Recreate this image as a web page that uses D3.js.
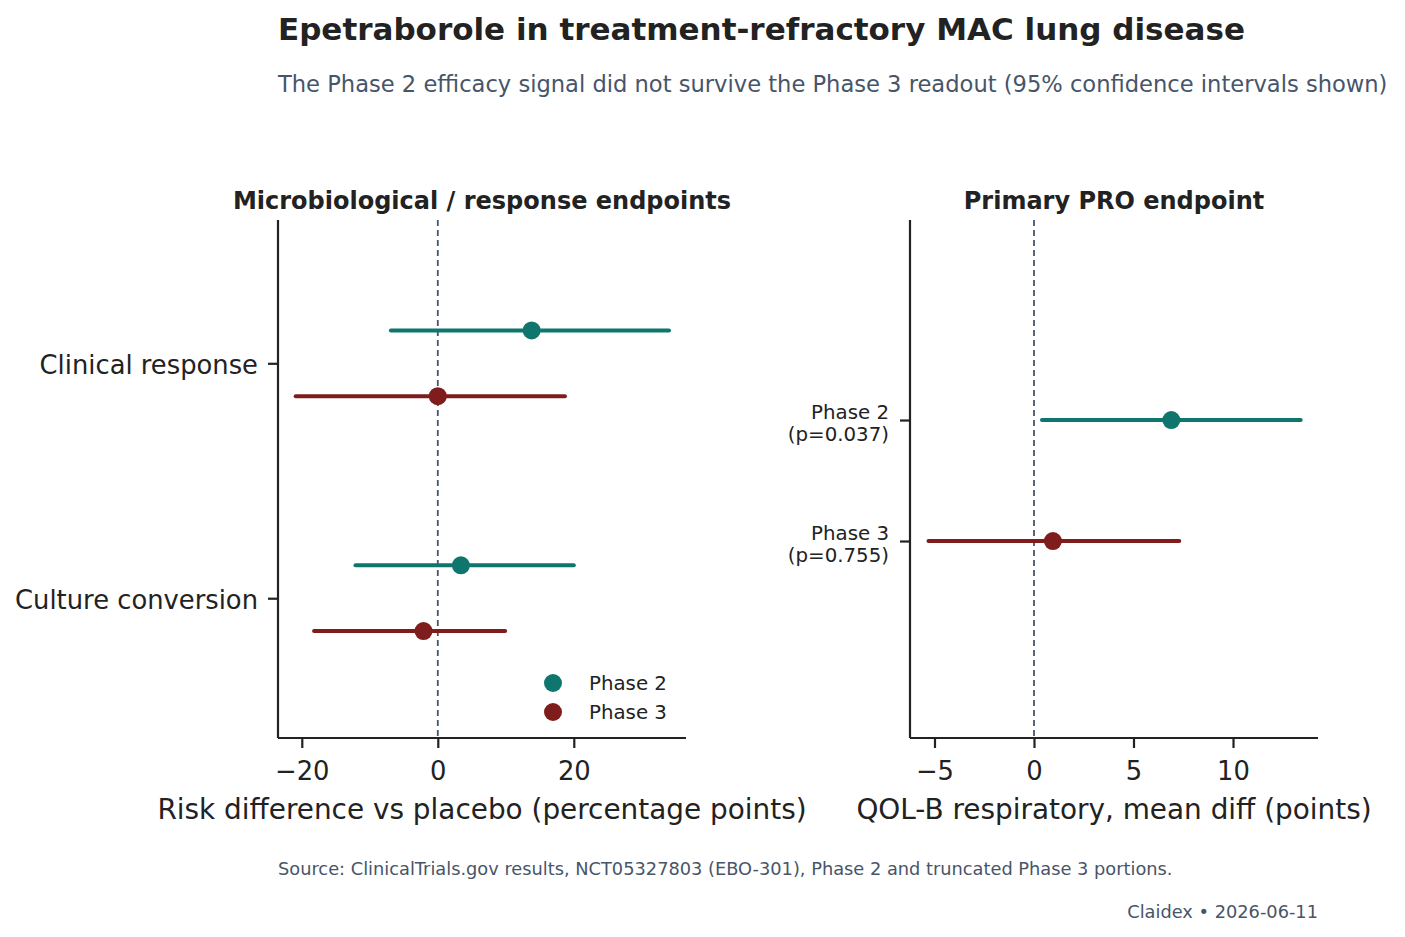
<!DOCTYPE html>
<html lang="en">
<head>
<meta charset="utf-8">
<script src="https://d3js.org/d3.v7.min.js"></script>
<style>
  body { margin: 0; background: #fff; }
  svg { font-family: "DejaVu Sans", sans-serif; }
</style>
</head>
<body>
<div id="chart"></div>
<script>
"use strict";

// data
const phases = ["Phase 2", "Phase 3"];
const phaseColors = ["#0f766e", "#7f1d1d"];

const leftCategories = ["Clinical response", "Culture conversion"];
// [estimate, lower, upper] per category, per phase
const leftPhase2 = [[13.8, -6.9, 34.0], [3.4, -12.1, 20.0]];
const leftPhase3 = [[0.0, -20.9, 18.7], [-2.1, -18.2, 9.9]];
const leftTicks = [-20, 0, 20];

const rightCategories = [["Phase 2", "(p=0.037)"], ["Phase 3", "(p=0.755)"]];
const rightValues = [[6.9, 0.4, 13.4], [0.95, -5.3, 7.3]];
const rightTicks = [-5, 0, 5, 10];

const W = 1405, H = 937;
const svg = d3.select("#chart").append("svg").attr("width", W).attr("height", H);

const ink = "#222222", muted = "#475569";

// titles
svg.append("text").attr("x", 278).attr("y", 40).text("Epetraborole in treatment-refractory MAC lung disease")
  .style("font-size", "31px").style("font-weight", "bold").attr("fill", ink);
svg.append("text").attr("x", 278).attr("y", 92).text("The Phase 2 efficacy signal did not survive the Phase 3 readout (95% confidence intervals shown)")
  .style("font-size", "22.6px").attr("fill", muted);

const plotTop = 220, plotBottom = 738;

// ---- left panel ----
const xL = d3.scaleLinear().domain([-23.5, 36.5]).range([278, 686]);
const yL = d3.scaleLinear().domain([-0.61, 1.595]).range([plotTop, plotBottom]);
const off = 0.14;

const gL = svg.append("g");
gL.append("line").attr("x1", xL(0)).attr("x2", xL(0)).attr("y1", plotTop).attr("y2", plotBottom)
  .attr("stroke", muted).attr("stroke-width", 1.8).attr("stroke-dasharray", "6,4");

const leftRows = [];
leftCategories.forEach((c, i) => {
  leftRows.push({pos: i - off, v: leftPhase2[i], col: phaseColors[0]});
  leftRows.push({pos: i + off, v: leftPhase3[i], col: phaseColors[1]});
});
gL.selectAll("line.ci").data(leftRows).enter().append("line").attr("class", "ci")
  .attr("x1", d => xL(d.v[1])).attr("x2", d => xL(d.v[2]))
  .attr("y1", d => yL(d.pos)).attr("y2", d => yL(d.pos))
  .attr("stroke", d => d.col).attr("stroke-width", 4).attr("stroke-linecap", "round");
gL.selectAll("circle").data(leftRows).enter().append("circle")
  .attr("cx", d => xL(d.v[0])).attr("cy", d => yL(d.pos)).attr("r", 9).attr("fill", d => d.col);

const axL = gL.append("g").attr("transform", `translate(0,${plotBottom})`)
  .call(d3.axisBottom(xL).tickValues(leftTicks).tickSize(10).tickPadding(10).tickFormat(d => d < 0 ? "\u2212" + Math.abs(d) : d));
const ayL = gL.append("g").attr("transform", `translate(278,0)`)
  .call(d3.axisLeft(yL).tickValues([0, 1]).tickSize(10).tickPadding(10).tickFormat(i => leftCategories[i]));
[axL, ayL].forEach(a => {
  a.select(".domain").attr("stroke", ink).attr("stroke-width", 2.2).attr("d", a === axL ? `M278,0H686` : `M0,${plotTop}V${plotBottom}`);
  a.selectAll(".tick line").attr("stroke", ink).attr("stroke-width", 2.2);
  a.selectAll(".tick text").attr("fill", ink).style("font-size", "25.8px").attr("font-family", "DejaVu Sans, sans-serif");
});
axL.selectAll(".tick text").attr("dy", "0.85em");
ayL.selectAll(".tick text").attr("dy", "0.38em");

svg.append("text").attr("x", 482).attr("y", 209).attr("text-anchor", "middle")
  .text("Microbiological / response endpoints").style("font-size", "24px").style("font-weight", "bold").attr("fill", ink);
svg.append("text").attr("x", 482).attr("y", 819).attr("text-anchor", "middle")
  .text("Risk difference vs placebo (percentage points)").style("font-size", "27.9px").attr("fill", ink);

// legend
const leg = svg.append("g").attr("transform", "translate(553,683)");
phases.forEach((p, i) => {
  leg.append("circle").attr("cx", 0).attr("cy", i * 29).attr("r", 9).attr("fill", phaseColors[i]);
  leg.append("text").attr("x", 36).attr("y", i * 29).attr("dy", "0.35em").text(p)
    .style("font-size", "19.8px").attr("fill", ink);
});

// ---- right panel ----
const xR = d3.scaleLinear().domain([-6.23, 14.27]).range([910, 1318]);
const yR = d3.scaleLinear().domain([-1.653, 2.628]).range([plotTop, plotBottom]);

const gR = svg.append("g");
gR.append("line").attr("x1", xR(0)).attr("x2", xR(0)).attr("y1", plotTop).attr("y2", plotBottom)
  .attr("stroke", muted).attr("stroke-width", 1.8).attr("stroke-dasharray", "6,4");
const rightRows = rightValues.map((v, i) => ({pos: i, v: v, col: phaseColors[i]}));
gR.selectAll("line.ci").data(rightRows).enter().append("line").attr("class", "ci")
  .attr("x1", d => xR(d.v[1])).attr("x2", d => xR(d.v[2]))
  .attr("y1", d => yR(d.pos)).attr("y2", d => yR(d.pos))
  .attr("stroke", d => d.col).attr("stroke-width", 4).attr("stroke-linecap", "round");
gR.selectAll("circle").data(rightRows).enter().append("circle")
  .attr("cx", d => xR(d.v[0])).attr("cy", d => yR(d.pos)).attr("r", 9).attr("fill", d => d.col);

const axR = gR.append("g").attr("transform", `translate(0,${plotBottom})`)
  .call(d3.axisBottom(xR).tickValues(rightTicks).tickSize(10).tickPadding(10).tickFormat(d => d < 0 ? "\u2212" + Math.abs(d) : d));
axR.select(".domain").attr("stroke", ink).attr("stroke-width", 2.2).attr("d", "M910,0H1318");
axR.selectAll(".tick line").attr("stroke", ink).attr("stroke-width", 2.2);
axR.selectAll(".tick text").attr("fill", ink).style("font-size", "25.8px").attr("font-family", "DejaVu Sans, sans-serif").attr("dy", "0.85em");

const ayR = gR.append("g").attr("transform", "translate(910,0)")
  .call(d3.axisLeft(yR).tickValues([0, 1]).tickSize(10).tickFormat(""));
ayR.select(".domain").attr("stroke", ink).attr("stroke-width", 2.2).attr("d", `M0,${plotTop}V${plotBottom}`);
ayR.selectAll(".tick line").attr("stroke", ink).attr("stroke-width", 2.2);
rightCategories.forEach((lines, i) => {
  const t = gR.append("text").attr("text-anchor", "end").attr("fill", ink).style("font-size", "19.8px");
  lines.forEach((ln, j) => {
    t.append("tspan").attr("x", 889).attr("y", yR(i) - 1 + j * 22).text(ln);
  });
});

svg.append("text").attr("x", 1114).attr("y", 209).attr("text-anchor", "middle")
  .text("Primary PRO endpoint").style("font-size", "24px").style("font-weight", "bold").attr("fill", ink);
svg.append("text").attr("x", 1114).attr("y", 819).attr("text-anchor", "middle")
  .text("QOL-B respiratory, mean diff (points)").style("font-size", "27.9px").attr("fill", ink);

// footer
svg.append("text").attr("x", 278).attr("y", 875).text("Source: ClinicalTrials.gov results, NCT05327803 (EBO-301), Phase 2 and truncated Phase 3 portions.")
  .style("font-size", "17.8px").attr("fill", muted);
svg.append("text").attr("x", 1318).attr("y", 918).attr("text-anchor", "end").text("Claidex \u2022 2026-06-11")
  .style("font-size", "17.8px").attr("fill", muted);
</script>
</body>
</html>
